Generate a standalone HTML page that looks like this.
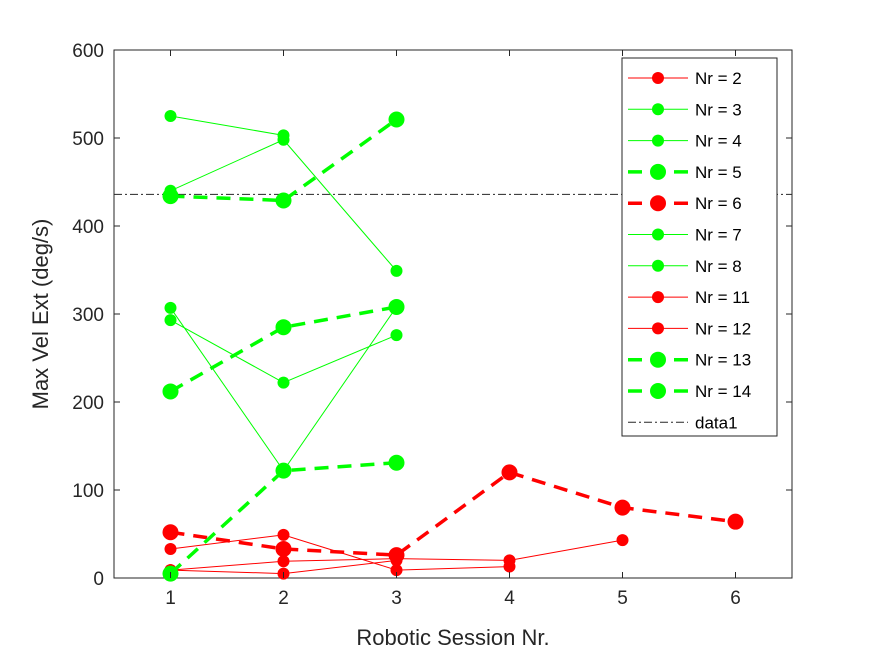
<!DOCTYPE html>
<html><head><meta charset="utf-8"><style>
body{margin:0;background:#fff;}
svg{display:block;font-family:"Liberation Sans",Arial,sans-serif;}
</style></head><body>
<svg id="chart" width="875" height="656" viewBox="0 0 875 656">
<rect x="0" y="0" width="875" height="656" fill="#fff"/>
<rect x="114" y="50" width="678" height="528" fill="#fff" stroke="#262626" stroke-width="1"/>
<g id="marks"></g>
<g id="axes"></g>
<g id="legend"></g>
</svg>
<script>
const sessions=[1,2,3,4,5,6];
const xTicks=[1,2,3,4,5,6];
const yTicks=[0,100,200,300,400,500,600];
const seriesNames=["Nr = 2","Nr = 3","Nr = 4","Nr = 5","Nr = 6","Nr = 7","Nr = 8","Nr = 11","Nr = 12","Nr = 13","Nr = 14"];
const seriesColors=["red","green","green","green","red","green","green","red","red","green","green"];
const seriesDashed=[false,false,false,true,true,false,false,false,false,true,true];
const nr2=[33,49,9,13];
const nr3=[525,503];
const nr4=[440,498,349];
const nr5=[434,429,521];
const nr6=[52,33,26,120,80,64];
const nr7=[307,122,308];
const nr8=[293,222,276];
const nr11=[9,19,22,20,43];
const nr12=[9,5,20];
const nr13=[212,285,308];
const nr14=[5,122,131];
const refLine=436;
const seriesValues=[nr2,nr3,nr4,nr5,nr6,nr7,nr8,nr11,nr12,nr13,nr14];

const NS="http://www.w3.org/2000/svg";
const X0=114,X1=792,Y0=578,Y1=50;
function xs(v){return X0+(v-0.5)/6*(X1-X0);}
function ys(v){return Y0-v/600*(Y0-Y1);}
function mk(tag,attrs,parent){const e=document.createElementNS(NS,tag);for(const k in attrs)e.setAttribute(k,attrs[k]);parent.appendChild(e);return e;}
const col={red:"#ff0000",green:"#00ff00"};
const marks=document.getElementById("marks");
const axes=document.getElementById("axes");
const legend=document.getElementById("legend");

// reference line
const rl=mk("line",{x1:X0,x2:X1,y1:ys(refLine),y2:ys(refLine),stroke:"#262626","stroke-width":1,"stroke-dasharray":"8 3 2 3"},marks);



seriesValues.forEach((vals,i)=>{
  const g=mk("g",{},marks);
  
  
  const c=col[seriesColors[i]];
  const pts=vals.map((v,j)=>xs(sessions[j])+","+ys(v)).join(" ");
  const pl=mk("polyline",{points:pts,fill:"none",stroke:c,"stroke-width":seriesDashed[i]?3.5:1,"stroke-dasharray":seriesDashed[i]?"14 9":"none"},g);
  
  
  vals.forEach((v,j)=>{
    const p=mk("circle",{cx:xs(sessions[j]),cy:ys(v),r:seriesDashed[i]?8:6,fill:c},g);
    
    
  });
});

// axes ticks
xTicks.forEach(t=>{
  const x=xs(t);
  mk("line",{x1:x,x2:x,y1:Y0,y2:Y0-6,stroke:"#262626"},axes);
  mk("line",{x1:x,x2:x,y1:Y1,y2:Y1+6,stroke:"#262626"},axes);
  const tx=mk("text",{x:x,y:Y0+26,"text-anchor":"middle","font-size":19,fill:"#262626"},axes);
  tx.textContent=t;
  
  
});
yTicks.forEach(t=>{
  const y=ys(t);
  mk("line",{x1:X0,x2:X0+6,y1:y,y2:y,stroke:"#262626"},axes);
  mk("line",{x1:X1,x2:X1-6,y1:y,y2:y,stroke:"#262626"},axes);
  const tx=mk("text",{x:X0-10,y:y+7,"text-anchor":"end","font-size":19,fill:"#262626"},axes);
  tx.textContent=t;
  
  
});
const xt=mk("text",{x:(X0+X1)/2,y:645,"text-anchor":"middle","font-size":22,fill:"#262626"},axes);
xt.textContent="Robotic Session Nr.";


const yt=mk("text",{x:0,y:0,"text-anchor":"middle","font-size":22,fill:"#262626",transform:"translate(48,314) rotate(-90)"},axes);
yt.textContent="Max Vel Ext (deg/s)";



// legend
const lb=mk("rect",{x:622,y:58,width:155,height:378,fill:"#fff",stroke:"#262626","stroke-width":1},legend);


const names=seriesNames.concat(["data1"]);
names.forEach((n,i)=>{
  const y=78+i*31.3;
  const g=mk("g",{},legend);
  
  
  if(i<seriesNames.length){
    const c=col[seriesColors[i]];
    mk("line",{x1:628,x2:688,y1:y,y2:y,stroke:c,"stroke-width":seriesDashed[i]?3.5:1,"stroke-dasharray":seriesDashed[i]?"14 9":"none"},g);
    mk("circle",{cx:658,cy:y,r:seriesDashed[i]?8:6,fill:c},g);
  } else {
    mk("line",{x1:628,x2:688,y1:y,y2:y,stroke:"#262626","stroke-width":1,"stroke-dasharray":"8 3 2 3"},g);
  }
  const t=mk("text",{x:695,y:y+6,"font-size":17,fill:"#000"},g);
  t.textContent=n;
});
</script>
</body></html>
